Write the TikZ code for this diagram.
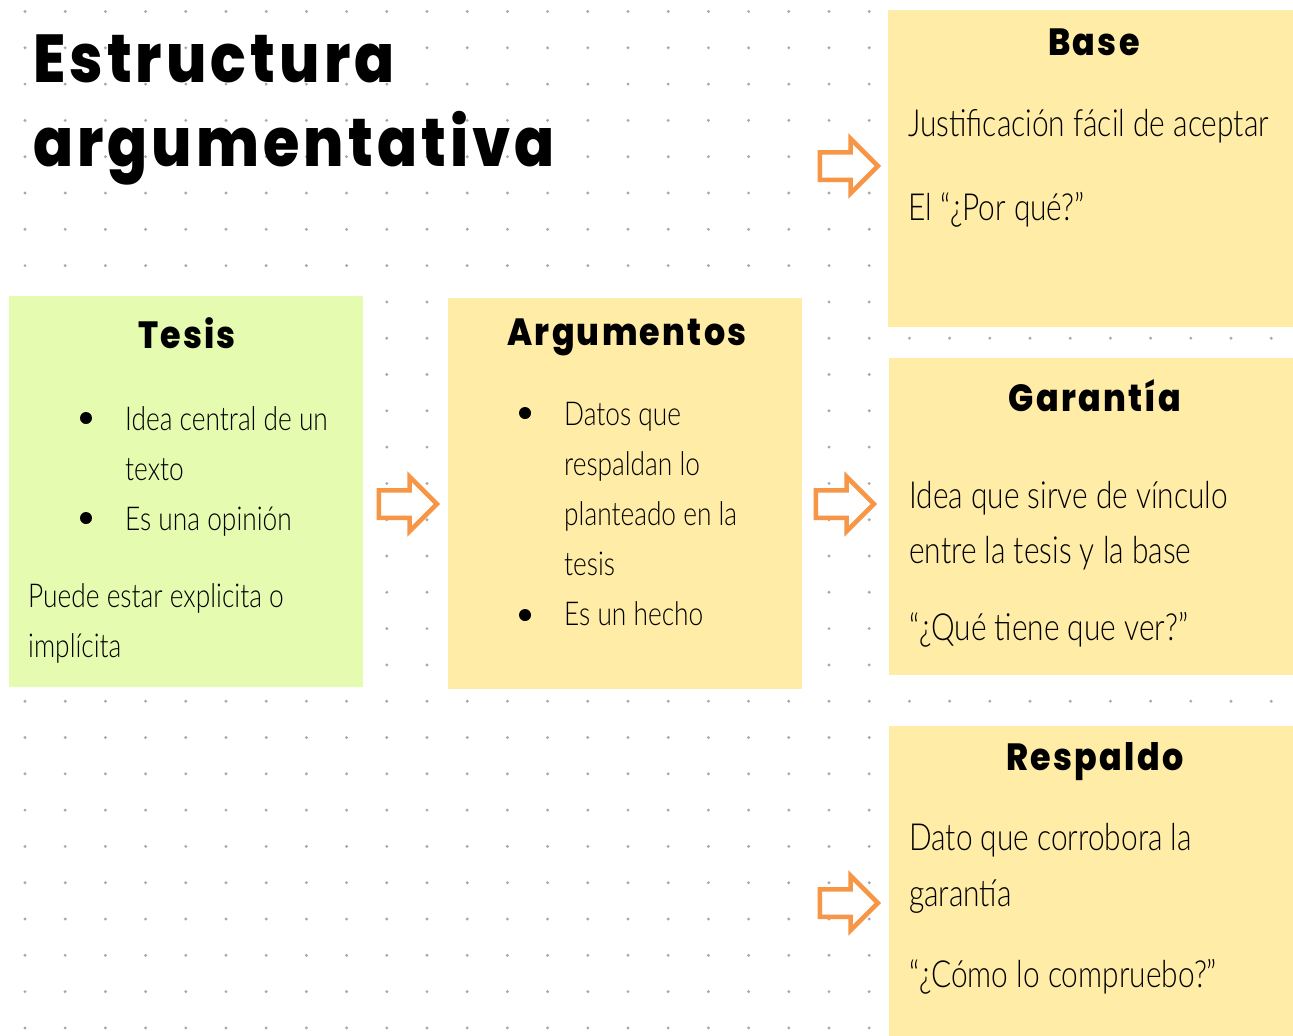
\documentclass[tikz,border=0pt]{standalone}
\usepackage{fontspec}
\usetikzlibrary{shapes.arrows}
\IfFontExistsTF{Lato Light}
  {\newfontfamily\handfont[FakeStretch=0.8]{Lato Light}}
  {\newfontfamily\handfont[FakeStretch=0.8]{Lato}}
\IfFontExistsTF{Poppins ExtraBold}
  {\newfontfamily\chunkyA[LetterSpace=6,FakeStretch=0.87]{Poppins ExtraBold}\newcommand\chunky{\chunkyA}%
   \newfontfamily\chunkyB[LetterSpace=6,FakeStretch=0.88]{Poppins ExtraBold}\newcommand\chunkysmall{\chunkyB}}
  {\newfontfamily\chunkyA[LetterSpace=6,FakeStretch=0.87]{Poppins}\newcommand\chunky{\chunkyA\bfseries}%
   \newfontfamily\chunkyB[LetterSpace=6,FakeStretch=0.88]{Poppins}\newcommand\chunkysmall{\chunkyB\bfseries}}
\definecolor{greenbox}{RGB}{229,252,176}
\definecolor{yellowbox}{RGB}{255,236,166}
\definecolor{arroworange}{RGB}{247,150,70}
\definecolor{dotgray}{RGB}{168,168,168}
\tikzset{
  card/.style={draw=none, inner sep=0pt, rectangle},
  bigtitle/.style={anchor=base west, inner sep=0pt, font=\chunky\fontsize{68}{70}\selectfont},
  cardtitle/.style={anchor=base, inner sep=0pt, font=\chunkysmall\fontsize{38}{40}\selectfont},
  hand/.style={anchor=base west, inner sep=0pt, font=\handfont\fontsize{33}{40}\selectfont},
  handbig/.style={anchor=base west, inner sep=0pt, font=\handfont\fontsize{37.5}{44}\selectfont},
  bulletdot/.style={circle, fill=black, minimum size=12bp, inner sep=0pt},
  blockarrow/.style={single arrow, draw=arroworange, fill=white, line width=4.5bp,
    minimum height=58bp, single arrow head extend=13.5bp,
    single arrow tip angle=90, inner sep=0pt}
}
\newcommand\shaftstrut{\rule{0pt}{23bp}}
\begin{document}
\begin{tikzpicture}[x=1bp,y=-1bp]
\useasboundingbox[fill=white] (0,0) rectangle (1293,1036);
% dot grid
\foreach \i in {0,...,31}{
  \foreach \j in {0,...,28}{
    \fill[dotgray] ({25+40.2*\i},{11.5+36.3*\j}) circle[radius=1.6bp];
  }
}
% title
\node[bigtitle] (title1) at (33,82) {Estructura};
\node[bigtitle] (title2) at (33,166) {argumentativa};
% cards
\node[card, fill=greenbox, minimum width=354bp, minimum height=391bp] (tesis) at (186,491.5) {};
\node[card, fill=yellowbox, minimum width=354bp, minimum height=391bp] (argumentos) at (625,493.5) {};
\node[card, fill=yellowbox, minimum width=405bp, minimum height=317bp] (base) at (1090.5,168.5) {};
\node[card, fill=yellowbox, minimum width=404bp, minimum height=317bp] (garantia) at (1091,516.5) {};
\node[card, fill=yellowbox, minimum width=404bp, minimum height=310bp] (respaldo) at (1091,881) {};
% block arrows
\node[blockarrow] (arrowTA) at (401,504) {\shaftstrut};
\node[blockarrow] (arrowAG) at (838,504) {\shaftstrut};
\node[blockarrow] (arrowB) at (842,166) {\shaftstrut};
\node[blockarrow] (arrowR) at (842,903) {\shaftstrut};
% Tesis
\node[cardtitle] (tesisT) at (187,348) {Tesis};
\node[bulletdot] (tb1) at (86,418) {};
\node[bulletdot] (tb2) at (86,518) {};
\node[hand] (t1) at (125,430) {Idea central de un};
\node[hand] (t2) at (125,480) {texto};
\node[hand] (t3) at (125,530) {Es una opinión};
\node[hand] (t4) at (28,607) {Puede estar explicita o};
\node[hand] (t5) at (28,657) {implícita};
% Argumentos
\node[cardtitle] (argT) at (627,345) {Argumentos};
\node[bulletdot] (ab1) at (525,413) {};
\node[bulletdot] (ab2) at (525,615) {};
\node[hand] (a1) at (564,425) {Datos que};
\node[hand] (a2) at (564,475) {respaldan lo};
\node[hand] (a3) at (564,525) {planteado en la};
\node[hand] (a4) at (564,575) {tesis};
\node[hand] (a5) at (564,625) {Es un hecho};
% Base
\node[cardtitle] (baseT) at (1094,55) {Base};
\node[handbig] (b1) at (908,136) {Justificación fácil de aceptar};
\node[handbig] (b2) at (908,220) {El “¿Por qué?”};
% Garantia
\node[cardtitle] (garT) at (1095,411) {Garantía};
\node[handbig] (g1) at (909,508) {Idea que sirve de vínculo};
\node[handbig] (g2) at (909,563) {entre la tesis y la base};
\node[handbig] (g3) at (909,640) {“¿Qué tiene que ver?”};
% Respaldo
\node[cardtitle] (resT) at (1095,770) {Respaldo};
\node[handbig] (r1) at (909,850) {Dato que corrobora la};
\node[handbig] (r2) at (909,906) {garantía};
\node[handbig] (r3) at (909,987) {“¿Cómo lo compruebo?”};
\end{tikzpicture}
\end{document}
